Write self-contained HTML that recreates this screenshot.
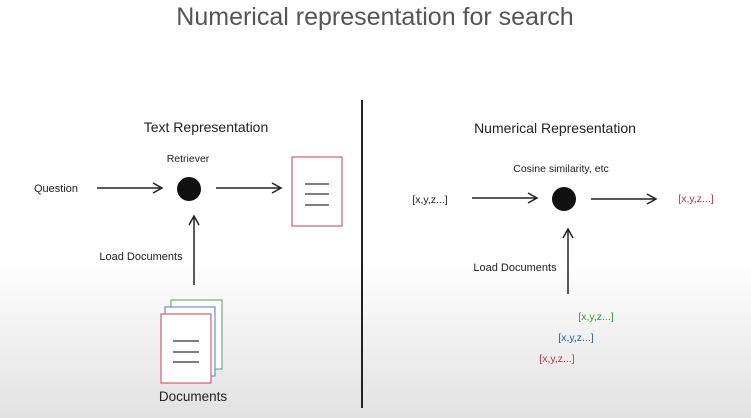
<!DOCTYPE html>
<html><head><style>
html,body{margin:0;padding:0;width:751px;height:418px;overflow:hidden;background:linear-gradient(#fff 0px,#fff 260px,#e2e2e2 418px);font-family:"Liberation Sans",sans-serif}
</style></head><body>
<svg width="751" height="418" xmlns="http://www.w3.org/2000/svg" style="position:absolute;left:0;top:0">
<defs><marker id="a" markerWidth="12" markerHeight="12" refX="10" refY="6" orient="auto" markerUnits="userSpaceOnUse"><path d="M1,1 L10,6 L1,11" fill="none" stroke="#222" stroke-width="1.5"/></marker></defs>
<text x="375" y="25" text-anchor="middle" font-size="25" fill="#555" font-family="Liberation Sans, sans-serif">Numerical representation for search</text>
<line x1="362" y1="100" x2="362" y2="408" stroke="#222" stroke-width="2"/>
<g font-family="Liberation Sans, sans-serif" fill="#222">
<text x="206" y="132" text-anchor="middle" font-size="14">Text Representation</text>
<text x="188" y="162" text-anchor="middle" font-size="10.5">Retriever</text>
<text x="56" y="192" text-anchor="middle" font-size="11">Question</text>
<text x="141" y="260" text-anchor="middle" font-size="11">Load Documents</text>
<text x="193" y="401" text-anchor="middle" font-size="13.5">Documents</text>
<text x="555" y="133" text-anchor="middle" font-size="14">Numerical Representation</text>
<text x="561" y="172" text-anchor="middle" font-size="10.5">Cosine similarity, etc</text>
<text x="430" y="203" text-anchor="middle" font-size="10.5">[x,y,z...]</text>
<text x="696" y="202" text-anchor="middle" font-size="10.5" fill="#c0393b">[x,y,z...]</text>
<text x="515" y="271" text-anchor="middle" font-size="11">Load Documents</text>
<text x="596" y="320" text-anchor="middle" font-size="10.5" fill="#3a9a3a">[x,y,z...]</text>
<text x="576" y="341" text-anchor="middle" font-size="10.5" fill="#2a5db0">[x,y,z...]</text>
<text x="557" y="362" text-anchor="middle" font-size="10.5" fill="#c0393b">[x,y,z...]</text>
</g>
<g stroke="#222" stroke-width="1.5" fill="none">
<line x1="97" y1="188" x2="162" y2="188" marker-end="url(#a)"/>
<line x1="216" y1="188" x2="281" y2="188" marker-end="url(#a)"/>
<line x1="194" y1="285" x2="194" y2="216" marker-end="url(#a)"/>
<line x1="472" y1="198" x2="537" y2="198" marker-end="url(#a)"/>
<line x1="591" y1="199" x2="656" y2="199" marker-end="url(#a)"/>
<line x1="568" y1="294" x2="568" y2="229" marker-end="url(#a)"/>
</g>
<circle cx="189" cy="189" r="12" fill="#111"/>
<circle cx="564" cy="199" r="12" fill="#111"/>
<rect x="292" y="157" width="50" height="69" fill="#fff" stroke="#d06070" stroke-width="1.2"/>
<g stroke="#333" stroke-width="1.2"><line x1="305" y1="184" x2="329" y2="184"/><line x1="305" y1="194" x2="329" y2="194"/><line x1="305" y1="205" x2="329" y2="205"/></g>
<rect x="171" y="300" width="51" height="69" fill="#fff" stroke="#70b070" stroke-width="1.2"/>
<rect x="165" y="307" width="50" height="69" fill="#fff" stroke="#6a8fc8" stroke-width="1.2"/>
<rect x="161" y="314" width="50" height="69" fill="#fff" stroke="#d06070" stroke-width="1.2"/>
<g stroke="#333" stroke-width="1.2"><line x1="173" y1="341" x2="199" y2="341"/><line x1="173" y1="352" x2="199" y2="352"/><line x1="173" y1="362" x2="199" y2="362"/></g>
</svg>
</body></html>
